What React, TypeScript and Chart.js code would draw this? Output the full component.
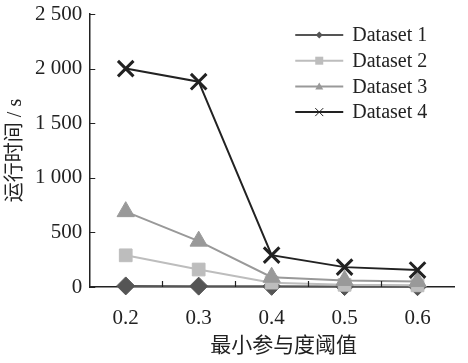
import React, { useEffect, useRef } from "react";
import { Chart, registerables } from "chart.js";

Chart.register(...registerables);

const categories = ["0.2", "0.3", "0.4", "0.5", "0.6"];
const dataset1 = [10, 8, 6, 4, 3];
const dataset2 = [290, 160, 40, 20, 15];
const dataset3 = [690, 420, 90, 60, 50];
const dataset4 = [2000, 1880, 292, 182, 155];
const seriesNames = ["Dataset 1", "Dataset 2", "Dataset 3", "Dataset 4"];
const yTicks = [0, 500, 1000, 1500, 2000, 2500];
const xTitle = "最小参与度阈值";
const yTitle = "运行时间 / s";

const FONT = "'Liberation Serif', 'Noto Sans CJK SC', serif";

const fmt = (v: number) => {
  const s = String(Math.round(v));
  return s.length > 3 ? s.slice(0, s.length - 3) + " " + s.slice(-3) : s;
};

function drawPointFn(ctx: any, style: string, r: number, x: number, y: number, color: string) {
  ctx.save();
  ctx.fillStyle = color;
  ctx.strokeStyle = color;
  ctx.lineWidth = 1;
  ctx.beginPath();
  switch (style) {
    case "rectRot":
      ctx.moveTo(x, y - r);
      ctx.lineTo(x + r, y);
      ctx.lineTo(x, y + r);
      ctx.lineTo(x - r, y);
      ctx.closePath();
      ctx.fill();
      break;
    case "rect":
      ctx.rect(x - r, y - r, 2 * r, 2 * r);
      ctx.fill();
      break;
    case "triangle":
      ctx.moveTo(x, y - r);
      ctx.lineTo(x + r, y + r * 0.8);
      ctx.lineTo(x - r, y + r * 0.8);
      ctx.closePath();
      ctx.fill();
      break;
    case "crossRot":
      ctx.moveTo(x - r, y - r);
      ctx.lineTo(x + r, y + r);
      ctx.moveTo(x + r, y - r);
      ctx.lineTo(x - r, y + r);
      ctx.stroke();
      break;
  }
  ctx.restore();
}

const legendPlugin = {
  id: "customLegend",
  afterDraw(chart: any) {
    const ctx = chart.ctx;
    const area = chart.chartArea;
    const x0 = area.left + 206;
    const y0 = area.top + 21;
    const gap = 25.7;
    ctx.save();
    chart.data.datasets.forEach((ds: any, i: number) => {
      const y = y0 + i * gap;
      ctx.strokeStyle = ds.borderColor;
      ctx.lineWidth = 2;
      ctx.beginPath();
      ctx.moveTo(x0, y);
      ctx.lineTo(x0 + 48, y);
      ctx.stroke();
      const r = ds.pointStyle === "rectRot" ? 3.5 : 4;
      drawPointFn(ctx, ds.pointStyle, r, x0 + 24, y, ds.borderColor);
      ctx.fillStyle = "#222";
      ctx.font = "20px " + FONT;
      ctx.textBaseline = "middle";
      ctx.textAlign = "left";
      ctx.fillText(ds.label, x0 + 57, y + 1);
    });
    ctx.restore();
  },
};

const ticksPlugin = {
  id: "innerTicks",
  afterDraw(chart: any) {
    const ctx = chart.ctx;
    const area = chart.chartArea;
    const xs = chart.scales.x;
    const ys = chart.scales.y;
    ctx.save();
    ctx.strokeStyle = "#222";
    ctx.lineWidth = 1.2;
    ctx.beginPath();
    for (let i = 0; i < categories.length - 1; i++) {
      const px = Math.round((xs.getPixelForValue(i) + xs.getPixelForValue(i + 1)) / 2) + 0.5;
      ctx.moveTo(px, area.bottom);
      ctx.lineTo(px, area.bottom - 6);
    }
    yTicks.forEach((v) => {
      const py = Math.round(ys.getPixelForValue(v)) + 0.5;
      ctx.moveTo(area.left, py);
      ctx.lineTo(area.left + 6, py);
    });
    ctx.stroke();
    ctx.fillStyle = "#222";
    ctx.font = "21px " + FONT;
    ctx.textAlign = "center";
    ctx.textBaseline = "middle";
    ctx.fillText(xTitle, (area.left + area.right) / 2 + 12, area.bottom + 59);
    ctx.restore();
  },
};

export default function App() {
  const ref = useRef<HTMLCanvasElement | null>(null);
  useEffect(() => {
    document.body.style.margin = "0";
    const colors = ["#555555", "#bdbdbd", "#999999", "#222222"];
    const styles = ["rectRot", "rect", "triangle", "crossRot"];
    const radii = [9, 9, 10, 11];
    const values = [dataset1, dataset2, dataset3, dataset4];
    const chart = new Chart(ref.current!, {
      type: "line",
      data: {
        labels: categories,
        datasets: values.map((d, i) => ({
          label: seriesNames[i],
          data: d,
          borderColor: colors[i],
          backgroundColor: colors[i],
          pointBackgroundColor: colors[i],
          pointBorderColor: colors[i],
          pointStyle: styles[i] as any,
          pointRadius: radii[i],
          pointBorderWidth: i === 3 ? 3 : 1,
          borderWidth: 2,
          tension: 0,
          clip: false as any,
          order: 4 - i,
        })),
      },
      options: {
        animation: false,
        responsive: false,
        layout: { padding: { top: 10, right: 2, left: 0, bottom: 13 } },
        plugins: { legend: { display: false }, tooltip: { enabled: false } },
        scales: {
          x: {
            offset: true,
            grid: { display: false, drawTicks: false },
            border: { display: true, color: "#222", width: 1.5 },
            ticks: { color: "#222", font: { family: FONT, size: 21, lineHeight: 1 }, padding: 21 },
          },
          y: {
            min: 0,
            max: 2500,
            afterBuildTicks: (axis: any) => {
              axis.ticks = yTicks.map((v) => ({ value: v }));
            },
            grid: { display: false, drawTicks: false },
            border: { display: true, color: "#222", width: 1.5 },
            ticks: { color: "#222", font: { family: FONT, size: 21, lineHeight: 0.4 }, padding: 7, callback: (v: any) => fmt(Number(v)) },
            title: { display: true, text: yTitle, color: "#222", font: { family: FONT, size: 20 }, padding: { bottom: 0 } },
          },
        },
      },
      plugins: [legendPlugin, ticksPlugin],
    });
    return () => chart.destroy();
  }, []);
  return (
    <div style={{ width: 468, height: 363 }}>
      <canvas ref={ref} width={468} height={363} style={{ display: "block", background: "#fff" }} />
    </div>
  );
}
